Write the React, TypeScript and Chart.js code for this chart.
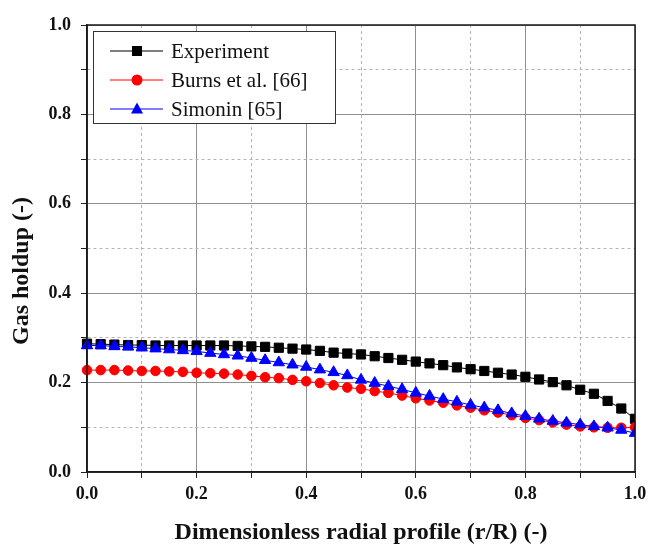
import React, { useEffect, useRef } from "react";
import { Chart, registerables } from "chart.js";

Chart.register(...registerables);

const radialPositions = [
  0, 0.025, 0.05, 0.075, 0.1, 0.125, 0.15, 0.175, 0.2, 0.225, 0.25, 0.275, 0.3, 0.325,
  0.35, 0.375, 0.4, 0.425, 0.45, 0.475, 0.5, 0.525, 0.55, 0.575, 0.6, 0.625, 0.65,
  0.675, 0.7, 0.725, 0.75, 0.775, 0.8, 0.825, 0.85, 0.875, 0.9, 0.925, 0.95, 0.975, 1.0,
];

const experimentValues = [
  0.287, 0.286, 0.285, 0.284, 0.284, 0.283, 0.283, 0.283, 0.283, 0.283, 0.283, 0.282,
  0.281, 0.28, 0.278, 0.276, 0.274, 0.271, 0.267, 0.265, 0.263, 0.259, 0.255, 0.251,
  0.247, 0.243, 0.239, 0.234, 0.23, 0.226, 0.222, 0.218, 0.213, 0.207, 0.201, 0.194,
  0.184, 0.175, 0.159, 0.142, 0.119,
];

const burnsValues = [
  0.228, 0.228, 0.228, 0.227, 0.226, 0.226, 0.225, 0.224, 0.222, 0.221, 0.22, 0.218,
  0.215, 0.212, 0.21, 0.206, 0.203, 0.199, 0.194, 0.189, 0.186, 0.181, 0.177, 0.171,
  0.165, 0.16, 0.155, 0.149, 0.144, 0.138, 0.133, 0.127, 0.121, 0.116, 0.111, 0.106,
  0.102, 0.1, 0.099, 0.099, 0.1,
];

const simoninValues = [
  0.283, 0.283, 0.281, 0.28, 0.278, 0.276, 0.274, 0.272, 0.27, 0.266, 0.263, 0.26,
  0.255, 0.25, 0.245, 0.24, 0.235, 0.229, 0.223, 0.216, 0.206, 0.199, 0.192, 0.185,
  0.177, 0.17, 0.163, 0.157, 0.15, 0.144, 0.138, 0.131, 0.125, 0.119, 0.114, 0.11,
  0.106, 0.102, 0.099, 0.094, 0.087,
];

const seriesNames = ["Experiment", "Burns et al. [66]", "Simonin [65]"];
const seriesColors = ["#000000", "#ff0000", "#0000ff"];
const seriesMarkers = ["rect", "circle", "triangle"];

const xTitle = "Dimensionless radial profile (r/R) (-)";
const yTitle = "Gas holdup (-)";

const SERIF = "'Liberation Serif', 'Times New Roman', serif";

function toPoints(vals: number[]) {
  return vals.map((v, i) => ({ x: radialPositions[i], y: v }));
}

const isMajor = (v: number) => Math.round(v * 10) % 2 === 0;

const framePlugin = {
  id: "frame",
  afterDraw(chart: any) {
    const { ctx, chartArea } = chart;
    ctx.save();
    ctx.strokeStyle = "#1a1a1a";
    ctx.lineWidth = 1.5;
    ctx.strokeRect(chartArea.left, chartArea.top, chartArea.right - chartArea.left, chartArea.bottom - chartArea.top);
    // y-axis title
    ctx.translate(22, 271);
    ctx.rotate(-Math.PI / 2);
    ctx.fillStyle = "#111";
    ctx.font = `bold 24px ${SERIF}`;
    ctx.textAlign = "center";
    ctx.textBaseline = "middle";
    ctx.fillText(yTitle, 0, 0);
    ctx.restore();
  },
};

const legendPlugin = {
  id: "boxLegend",
  afterDraw(chart: any) {
    const { ctx } = chart;
    const x0 = 93, y0 = 31, w = 242, h = 92;
    ctx.save();
    ctx.fillStyle = "#ffffff";
    ctx.fillRect(x0, y0, w, h);
    ctx.strokeStyle = "#333333";
    ctx.lineWidth = 1;
    ctx.strokeRect(x0 + 0.5, y0 + 0.5, w, h);
    const rows = [51, 80, 109];
    seriesNames.forEach((name, i) => {
      const y = rows[i];
      ctx.strokeStyle = seriesColors[i];
      ctx.lineWidth = 1;
      ctx.beginPath();
      ctx.moveTo(110, y);
      ctx.lineTo(163, y);
      ctx.stroke();
      ctx.fillStyle = seriesColors[i];
      ctx.beginPath();
      if (seriesMarkers[i] === "rect") {
        ctx.rect(137 - 5, y - 5, 10, 10);
      } else if (seriesMarkers[i] === "circle") {
        ctx.arc(137, y, 5.5, 0, Math.PI * 2);
      } else {
        ctx.moveTo(137, y - 6.5);
        ctx.lineTo(137 + 6, y + 4.5);
        ctx.lineTo(137 - 6, y + 4.5);
        ctx.closePath();
      }
      ctx.fill();
      ctx.fillStyle = "#111111";
      ctx.font = `21px ${SERIF}`;
      ctx.textBaseline = "middle";
      ctx.textAlign = "left";
      ctx.fillText(name, 171, y + 1);
    });
    ctx.restore();
  },
};

export default function App() {
  const ref = useRef<HTMLCanvasElement>(null);

  useEffect(() => {
    if (!ref.current) return;
    const valueSets = [experimentValues, burnsValues, simoninValues];
    const orders = [2, 1, 0];
    const radii = [6.5, 4.8, 6.5];
    const chart = new Chart(ref.current, {
      type: "line",
      data: {
        datasets: valueSets.map((vals, i) => ({
          label: seriesNames[i],
          data: toPoints(vals),
          borderColor: seriesColors[i],
          backgroundColor: seriesColors[i],
          borderWidth: 1,
          pointStyle: seriesMarkers[i] as any,
          pointRadius: radii[i],
          pointBorderWidth: 1,
          pointBorderColor: seriesColors[i],
          pointBackgroundColor: seriesColors[i],
          tension: 0,
          order: orders[i],
          clip: { left: 12, right: 0, top: 12, bottom: 12 } as any,
        })),
      },
      options: {
        animation: false,
        responsive: false,
        maintainAspectRatio: false,
        layout: { padding: { left: 0, top: 25, right: 14, bottom: 0 } },
        plugins: { legend: { display: false }, tooltip: { enabled: false } },
        scales: {
          x: {
            type: "linear",
            min: 0,
            max: 1,
            afterFit: (s: any) => {
              s.height = 73;
              s.paddingLeft = 0;
              s.paddingRight = 0;
            },
            ticks: {
              stepSize: 0.1,
              autoSkip: false,
              maxRotation: 0,
              padding: 6,
              color: "#111",
              font: { family: SERIF, size: 18, weight: "bold" },
              callback: (v: any) => (isMajor(Number(v)) ? Number(v).toFixed(1) : ""),
            },
            grid: {
              color: (c: any) => (c.tick && !isMajor(c.tick.value) ? "#b4b4b4" : "#8f8f8f"),
              lineWidth: 1,
              tickLength: 6,
              tickColor: "#222",
            },
            border: {
              display: true,
              color: "#1a1a1a",
              width: 1.5,
              dash: (c: any) => (c.tick && !isMajor(c.tick.value) ? [3, 3] : []),
            } as any,
            title: {
              display: true,
              text: xTitle,
              color: "#111",
              font: { family: SERIF, size: 24, weight: "bold", lineHeight: 1.0 },
              padding: { top: 0, bottom: 0 },
            },
          },
          y: {
            type: "linear",
            min: 0,
            max: 1,
            afterFit: (s: any) => {
              s.width = 87;
              s.paddingTop = 0;
              s.paddingBottom = 0;
            },
            ticks: {
              stepSize: 0.1,
              autoSkip: false,
              padding: 10,
              color: "#111",
              font: { family: SERIF, size: 18, weight: "bold" },
              callback: (v: any) => (isMajor(Number(v)) ? Number(v).toFixed(1) : ""),
            },
            grid: {
              color: (c: any) => (c.tick && !isMajor(c.tick.value) ? "#b4b4b4" : "#8f8f8f"),
              lineWidth: 1,
              tickLength: 6,
              tickColor: "#222",
            },
            border: {
              display: true,
              color: "#1a1a1a",
              width: 1.5,
              dash: (c: any) => (c.tick && !isMajor(c.tick.value) ? [3, 3] : []),
            } as any,
            title: { display: false },
          },
        },
      },
      plugins: [framePlugin, legendPlugin],
    });
    return () => chart.destroy();
  }, []);

  return (
    <div style={{ position: "fixed", left: 0, top: 0, width: 649, height: 545, background: "#fff" }}>
      <canvas ref={ref} width={649} height={545} style={{ display: "block" }} />
    </div>
  );
}
